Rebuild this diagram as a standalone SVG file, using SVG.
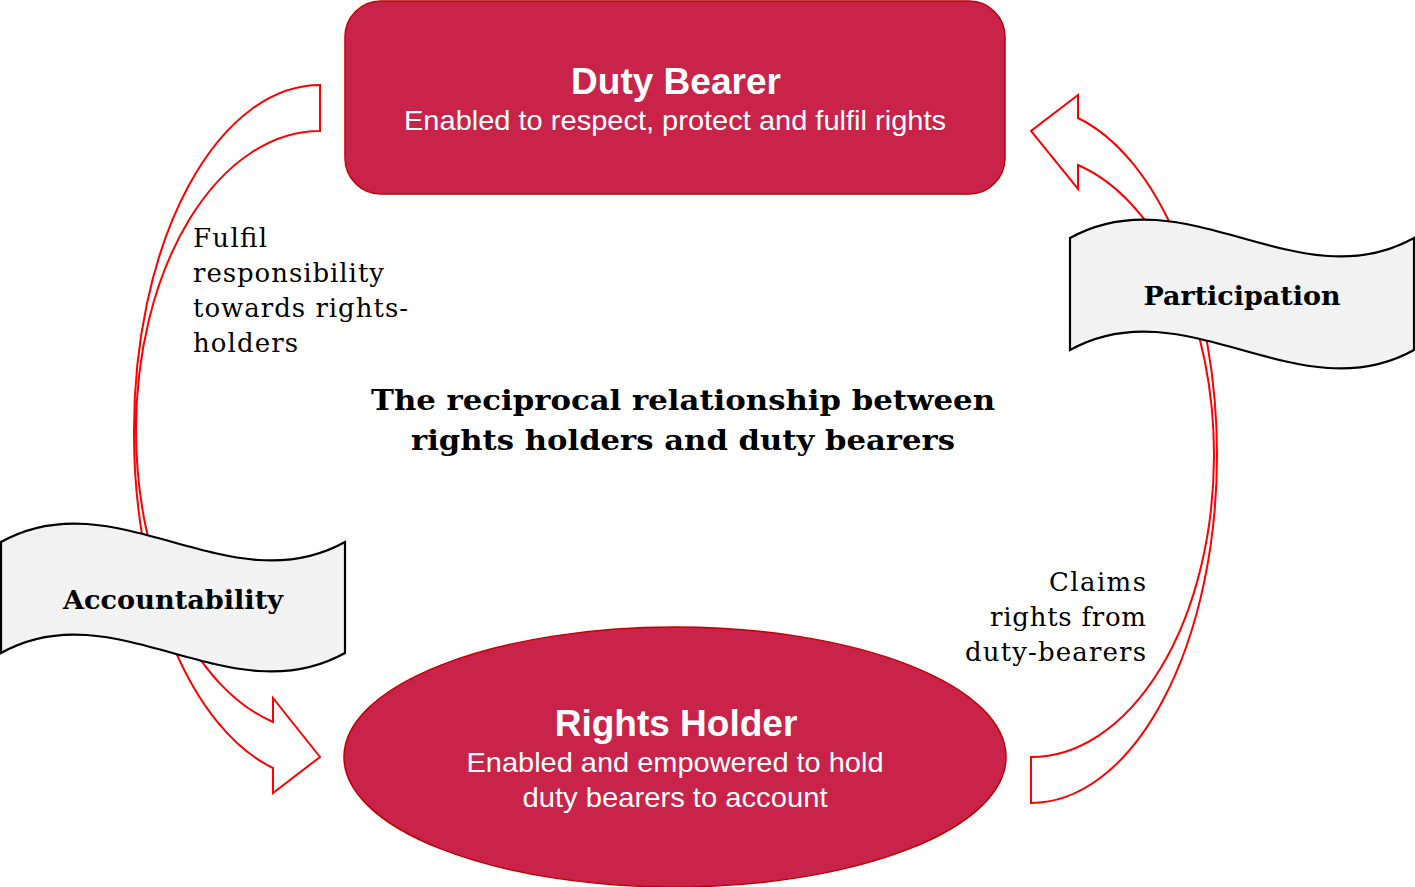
<svg xmlns="http://www.w3.org/2000/svg" width="1415" height="887" viewBox="0 0 1415 887">
<style>
.arrow{fill:#ffffff;stroke:#ff0000;stroke-width:2;stroke-linejoin:miter}
.banner{fill:#f2f2f2;stroke:#000000;stroke-width:2.2}
.main{fill:#c9234a;stroke:#c00000;stroke-width:1.5}
.h{font-family:"Liberation Sans",Arial,sans-serif;font-weight:bold;font-size:37px;fill:#ffffff;text-anchor:middle}
.s{font-family:"Liberation Sans",Arial,sans-serif;font-size:28px;fill:#ffffff;text-anchor:middle}
.serif{font-family:"DejaVu Serif","Liberation Serif",serif;font-size:26px;fill:#000000}
.bserif{font-family:"DejaVu Serif","Liberation Serif",serif;font-weight:bold;fill:#000000;text-anchor:middle}
</style>
<rect width="1415" height="887" fill="#ffffff"/>
<g id="connectors">
<path id="arrow-accountability" class="arrow" d="M320,85 L320,131 A184,299 0 0 0 136,430 A184,302 0 0 0 273,722 L273,698 L320,757 L273,793 L273,768 A186,345 0 0 1 134,430 A186,345 0 0 1 320,85 Z"/>
<path id="arrow-participation" class="arrow" d="M1031,757 L1031,803 A186,348 0 0 0 1217,455 A186,348 0 0 0 1078,118 L1078,95 L1031,131 L1078,189 L1078,165 A183,300 0 0 1 1214,455 A183,302 0 0 1 1031,757 Z"/>
</g>
<g id="label-fulfil">
<text class="serif" x="193" y="247" textLength="74" lengthAdjust="spacing">Fulfil</text>
<text class="serif" x="193" y="282" textLength="191" lengthAdjust="spacing">responsibility</text>
<text class="serif" x="193" y="317" textLength="215" lengthAdjust="spacing">towards rights-</text>
<text class="serif" x="193" y="352" textLength="105" lengthAdjust="spacing">holders</text>
</g>
<g id="label-claims">
<text class="serif" x="1049" y="591" textLength="97" lengthAdjust="spacing">Claims</text>
<text class="serif" x="990" y="626" textLength="156" lengthAdjust="spacing">rights from</text>
<text class="serif" x="965" y="661" textLength="181" lengthAdjust="spacing">duty-bearers</text>
</g>
<g id="accountability">
<path class="banner" d="M1,542 C115,478 230,606 345,542 L345,653 C230,717 115,589 1,653 Z"/>
<text class="bserif" x="173" y="609" font-size="26" textLength="220" lengthAdjust="spacingAndGlyphs">Accountability</text>
</g>
<g id="participation">
<path class="banner" d="M1070,238 C1185,174 1299,302 1414,238 L1414,350 C1299,414 1185,286 1070,350 Z"/>
<text class="bserif" x="1242" y="305" font-size="26" textLength="197" lengthAdjust="spacingAndGlyphs">Participation</text>
</g>
<g id="duty-bearer">
<rect class="main" x="345" y="1" width="660" height="193" rx="36" ry="36"/>
<text class="h" x="676" y="94">Duty Bearer</text>
<text class="s" x="675" y="130" textLength="542" lengthAdjust="spacingAndGlyphs">Enabled to respect, protect and fulfil rights</text>
</g>
<g id="rights-holder">
<ellipse class="main" cx="675" cy="757" rx="331" ry="130"/>
<text class="h" x="676" y="736">Rights Holder</text>
<text class="s" x="675" y="772" textLength="417" lengthAdjust="spacingAndGlyphs">Enabled and empowered to hold</text>
<text class="s" x="675" y="807" textLength="305" lengthAdjust="spacingAndGlyphs">duty bearers to account</text>
</g>
<g id="title">
<text class="bserif" x="683" y="410" font-size="28" textLength="624" lengthAdjust="spacingAndGlyphs">The reciprocal relationship between</text>
<text class="bserif" x="683" y="450" font-size="28" textLength="544" lengthAdjust="spacingAndGlyphs">rights holders and duty bearers</text>
</g>
</svg>
